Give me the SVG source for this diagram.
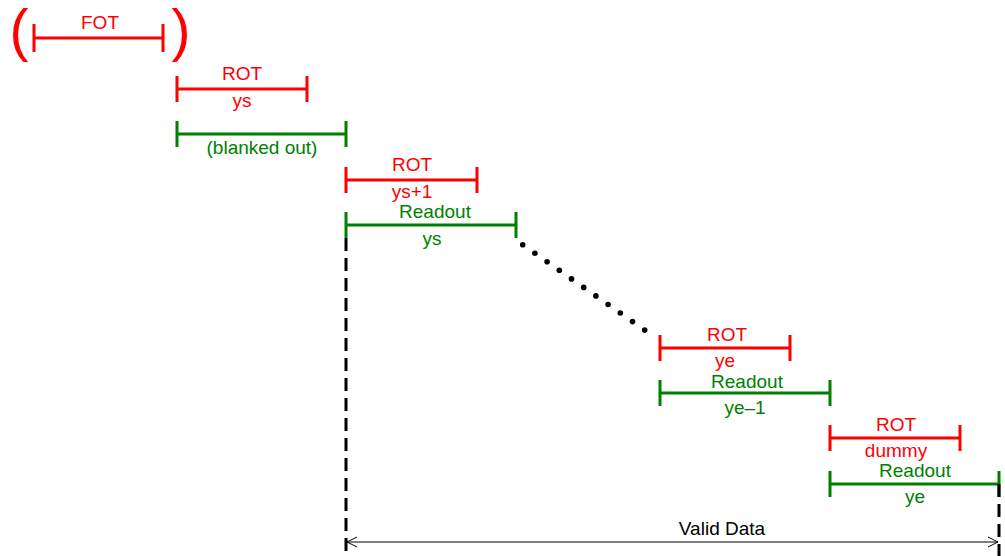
<svg xmlns="http://www.w3.org/2000/svg" width="1005" height="556" viewBox="0 0 1005 556">
<style>
text{font-family:"Liberation Sans",Arial,sans-serif;font-size:19px;text-anchor:middle}
.r{stroke:#ff0000;stroke-width:3;fill:none}
.g{stroke:#008000;stroke-width:3;fill:none}
.rt{fill:#ff0000}
.gt{fill:#008000}
.dash{stroke:#000;stroke-width:3;stroke-dasharray:13 7;fill:none}
.dot{fill:#000}
</style>
<defs>
<marker id="oa" markerWidth="12" markerHeight="12" refX="11" refY="6" orient="auto-start-reverse" markerUnits="userSpaceOnUse">
<path d="M1,1 L11,6 L1,11" fill="none" stroke="#000" stroke-width="1"/>
</marker>
</defs>
<g id="fot">
<text x="19" y="50" class="rt" style="font-size:57px">(</text>
<text x="181" y="50" class="rt" style="font-size:57px">)</text>
<path class="r" d="M34,38 H163 M34,24 V52 M163,24 V52"/>
<text x="100" y="29" class="rt">FOT</text>
</g>
<g id="rot-ys">
<path class="r" d="M177,89 H307 M177,76 V102 M307,76 V102"/>
<text x="242" y="80" class="rt">ROT</text>
<text x="242" y="107" class="rt">ys</text>
</g>
<g id="blanked">
<path class="g" d="M177,134 H346 M177,121 V147 M346,121 V147"/>
<text x="262" y="154" class="gt">(blanked out)</text>
</g>
<g id="rot-ys1">
<path class="r" d="M346,180 H477 M346,167 V193 M477,167 V193"/>
<text x="412" y="171" class="rt">ROT</text>
<text x="412" y="198" class="rt">ys+1</text>
</g>
<g id="readout-ys">
<path class="g" d="M346,225 H516 M346,212 V238 M516,212 V238"/>
<text x="435" y="218" class="gt">Readout</text>
<text x="432" y="245" class="gt">ys</text>
</g>
<g id="rot-ye">
<path class="r" d="M660,348 H790 M660,335 V361 M790,335 V361"/>
<text x="727" y="341" class="rt">ROT</text>
<text x="725" y="367" class="rt">ye</text>
</g>
<g id="readout-ye1">
<path class="g" d="M660,393 H830 M660,380 V406 M830,380 V406"/>
<text x="747" y="388" class="gt">Readout</text>
<text x="745" y="414" class="gt">ye–1</text>
</g>
<g id="rot-dummy">
<path class="r" d="M830,438 H960 M830,425 V451 M960,425 V451"/>
<text x="896" y="431" class="rt">ROT</text>
<text x="896" y="457" class="rt">dummy</text>
</g>
<g id="readout-ye">
<path class="g" d="M830,484 H999 M830,471 V497 M999,471 V497"/>
<text x="915" y="477" class="gt">Readout</text>
<text x="915" y="503" class="gt">ye</text>
</g>
<g id="connectors">
<g class="dot">
<circle cx="522.7" cy="244.7" r="2.8"/>
<circle cx="534.9" cy="253.2" r="2.8"/>
<circle cx="547.1" cy="261.8" r="2.8"/>
<circle cx="559.3" cy="270.3" r="2.8"/>
<circle cx="571.5" cy="278.9" r="2.8"/>
<circle cx="583.7" cy="287.4" r="2.8"/>
<circle cx="595.9" cy="295.9" r="2.8"/>
<circle cx="608.1" cy="304.5" r="2.8"/>
<circle cx="620.3" cy="313" r="2.8"/>
<circle cx="632.5" cy="321.6" r="2.8"/>
<circle cx="644.7" cy="330.1" r="2.8"/>
</g>
<path class="dash" d="M346,238 V556"/>
<path class="dash" d="M999,484 V556"/>
<path d="M347,542 H998" stroke="#000" stroke-width="1" fill="none" marker-start="url(#oa)" marker-end="url(#oa)"/>
<text x="722" y="535" fill="#000">Valid Data</text>
</g>
</svg>
